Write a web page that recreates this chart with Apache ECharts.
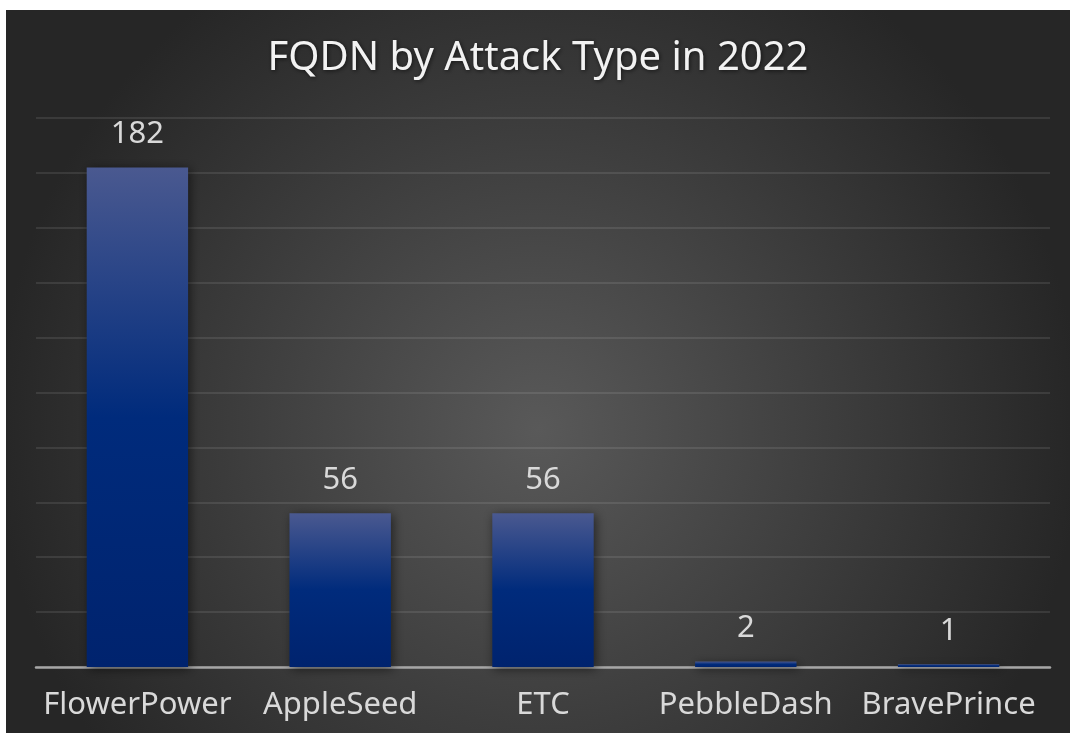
<!DOCTYPE html>
<html>
<head>
<meta charset="utf-8">
<script src="https://cdn.jsdelivr.net/npm/echarts@6/dist/echarts.min.js"></script>
<style>
html,body{margin:0;padding:0;background:#ffffff;}
#chart{position:absolute;left:6px;top:10px;width:1064px;height:723px;}
</style>
</head>
<body>
<div id="chart"></div>
<script>
const titleText = 'FQDN by Attack Type in 2022';
const categories = ['FlowerPower', 'AppleSeed', 'ETC', 'PebbleDash', 'BravePrince'];
const values = [182, 56, 56, 2, 1];

const chart = echarts.init(document.getElementById('chart'));
const font = '"Noto Sans", sans-serif';
chart.setOption({
  animation: false,
  backgroundColor: {
    type: 'radial', x: 0.5, y: 0.58, r: 0.75,
    colorStops: [
      {offset: 0, color: '#595959'},
      {offset: 1, color: '#262626'}
    ]
  },
  title: {
    text: titleText,
    left: 'center',
    top: 24,
    textStyle: {
      color: '#f2f2f2', fontSize: 40, fontWeight: 'normal', fontFamily: font,
      textShadowColor: 'rgba(0,0,0,0.6)', textShadowBlur: 4, textShadowOffsetX: 1, textShadowOffsetY: 1
    }
  },
  grid: {left: 30, right: 20, top: 108, bottom: 66, containLabel: false},
  xAxis: {
    type: 'category',
    data: categories,
    axisTick: {show: false},
    axisLine: {lineStyle: {color: '#a6a6a6', width: 2.5}},
    axisLabel: {color: '#d9d9d9', fontSize: 31, fontFamily: font, margin: 23, interval: 0}
  },
  yAxis: {
    type: 'value',
    min: 0, max: 200, interval: 20,
    axisLabel: {show: false},
    axisLine: {show: false},
    axisTick: {show: false},
    splitLine: {lineStyle: {color: 'rgba(255,255,255,0.13)', width: 1.5}}
  },
  series: [{
    type: 'bar',
    data: values,
    barWidth: '50%',
    itemStyle: {
      color: {
        type: 'linear', x: 0, y: 0, x2: 0, y2: 1,
        colorStops: [
          {offset: 0, color: '#4a5990'},
          {offset: 0.5, color: '#002b7c'},
          {offset: 1, color: '#00236e'}
        ]
      },
      shadowColor: 'rgba(0,0,0,0.55)', shadowBlur: 10, shadowOffsetX: 2, shadowOffsetY: 2
    },
    label: {
      show: true, position: 'top', distance: 18,
      color: '#d9d9d9', fontSize: 31, fontFamily: font
    }
  }]
});
</script>
</body>
</html>
